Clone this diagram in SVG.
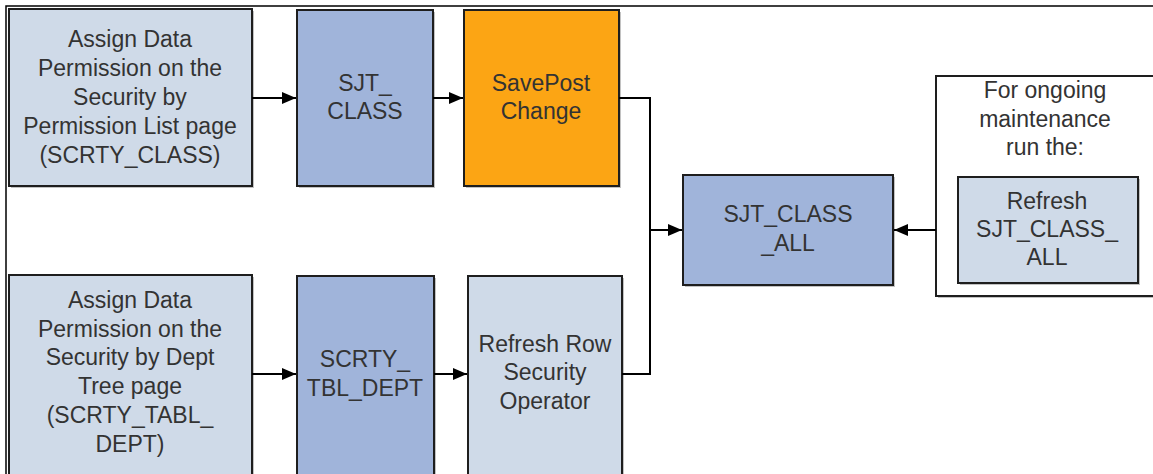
<svg xmlns="http://www.w3.org/2000/svg" width="1153" height="474" viewBox="0 0 1153 474">
<style>
.box{stroke:#1e1e1e;stroke-width:2}
.light{fill:#cfdae8}
.mid{fill:#a0b4da}
.orange{fill:#fca514}
.shadow{fill:#9a9a9a;opacity:0.6}
text{font-family:"Liberation Sans",Arial,sans-serif;font-size:23px;fill:#333;text-anchor:middle}
.conn{fill:none;stroke:#000;stroke-width:2}
</style>
<defs>
<marker id="arr" viewBox="0 0 14 12" refX="14" refY="6" markerWidth="14" markerHeight="12" markerUnits="userSpaceOnUse" orient="auto">
<path d="M0,0 L14,6 L0,12 Z" fill="#000"/>
</marker>
</defs>
<rect width="1153" height="474" fill="#fff"/>
<path d="M6,480 L6,6 L1153,6" fill="none" stroke="#000" stroke-width="1.5"/>

<g id="perm-list">
<rect class="shadow" x="11" y="11" width="243" height="177"/>
<rect class="box light" x="9" y="9" width="243" height="177"/>
<text x="130" y="47">Assign Data</text>
<text x="130" y="76">Permission on the</text>
<text x="130" y="105">Security by</text>
<text x="130" y="134">Permission List page</text>
<text x="130" y="163">(SCRTY_CLASS)</text>
</g>
<g id="sjt-class">
<rect class="shadow" x="299" y="12" width="136" height="176"/>
<rect class="box mid" x="297" y="10" width="136" height="176"/>
<text x="365" y="91">SJT_</text>
<text x="365" y="119">CLASS</text>
</g>
<g id="savepost">
<rect class="shadow" x="466" y="12" width="155" height="176"/>
<rect class="box orange" x="464" y="10" width="155" height="176"/>
<text x="541" y="91">SavePost</text>
<text x="541" y="119">Change</text>
</g>
<g id="sjt-class-all">
<rect class="shadow" x="685" y="177" width="210" height="110"/>
<rect class="box mid" x="683" y="175" width="210" height="110"/>
<text x="788" y="222">SJT_CLASS</text>
<text x="788" y="251">_ALL</text>
</g>
<g id="maintenance">
<rect class="shadow" x="938" y="78" width="230" height="220"/>
<rect x="936" y="76" width="230" height="220" fill="#fff" stroke="#1e1e1e" stroke-width="2"/>
<text x="1045" y="98">For ongoing</text>
<text x="1045" y="127">maintenance</text>
<text x="1045" y="155">run the:</text>
<g id="refresh-sjt-class-all">
<rect class="shadow" x="960" y="179" width="180" height="106"/>
<rect class="box light" x="958" y="177" width="180" height="106"/>
<text x="1047" y="209">Refresh</text>
<text x="1047" y="237">SJT_CLASS_</text>
<text x="1047" y="265">ALL</text>
</g>
</g>
<g id="perm-dept">
<rect class="shadow" x="11" y="277" width="243" height="210"/>
<rect class="box light" x="9" y="275" width="243" height="210"/>
<text x="130" y="308">Assign Data</text>
<text x="130" y="337">Permission on the</text>
<text x="130" y="365">Security by Dept</text>
<text x="130" y="394">Tree page</text>
<text x="130" y="423">(SCRTY_TABL_</text>
<text x="130" y="452">DEPT)</text>
</g>
<g id="scrty-tbl-dept">
<rect class="shadow" x="299" y="278" width="137" height="210"/>
<rect class="box mid" x="297" y="276" width="137" height="210"/>
<text x="365" y="367">SCRTY_</text>
<text x="365" y="396">TBL_DEPT</text>
</g>
<g id="refresh-row">
<rect class="shadow" x="470" y="278" width="154" height="210"/>
<rect class="box light" x="468" y="276" width="154" height="210"/>
<text x="545" y="352">Refresh Row</text>
<text x="545" y="380">Security</text>
<text x="545" y="409">Operator</text>
</g>

<g id="connectors">
<path class="conn" d="M252,98 L296,98" marker-end="url(#arr)"/>
<path class="conn" d="M433,98 L463,98" marker-end="url(#arr)"/>
<path class="conn" d="M619,98 L650,98 L650,374 L622,374"/>
<path class="conn" d="M650,230 L682,230" marker-end="url(#arr)"/>
<path class="conn" d="M936,230 L894,230" marker-end="url(#arr)"/>
<path class="conn" d="M252,374 L296,374" marker-end="url(#arr)"/>
<path class="conn" d="M434,374 L467,374" marker-end="url(#arr)"/>
</g>
</svg>
